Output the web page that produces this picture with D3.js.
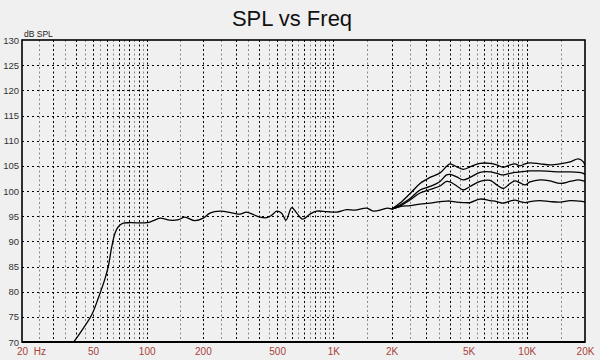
<!DOCTYPE html>
<html><head><meta charset="utf-8">
<script src="https://cdn.jsdelivr.net/npm/d3@7"></script>
<style>body{margin:0;background:#f0f0f0}svg{display:block}</style>
</head><body><svg id="c" width="600" height="360"></svg>
<script>
// ---- data ----
const freqLow = [39, 44.1, 49.2, 53.5, 58.4, 60.9, 63.7, 66.4, 69.3, 73.9, 80.6, 100, 108.5, 117.8, 133, 148, 160, 181, 201, 218, 247, 291, 316, 343, 373, 405, 440, 468, 497, 529, 558, 599, 637, 686, 750, 815, 922, 1041, 1173, 1295, 1488, 1610, 1814, 1900, 2004];
const splLow  = [70, 72.7, 75.4, 78.7, 82.6, 85, 88.9, 91.6, 92.9, 93.6, 93.7, 93.7, 94.1, 94.6, 94.2, 94.3, 94.8, 94.1, 94.6, 95.6, 96.0, 95.6, 95.4, 95.8, 95.3, 94.8, 94.7, 95.2, 96.0, 95.6, 94.2, 96.7, 95.6, 94.4, 95.4, 96.0, 95.9, 95.8, 96.3, 96.2, 96.6, 96.0, 96.4, 96.6, 96.4];

const freqHigh = [2004, 2213, 2493, 2808, 3162, 3563, 3850, 4012, 4346, 4701, 5091, 5734, 6460, 7000, 7568, 8198, 8700, 9236, 9800, 10400, 11720, 13200, 14870, 16750, 18490, 19620, 20000];
const splHighA = [96.4, 97.6, 99.5, 101.5, 102.7, 103.6, 104.9, 105.4, 104.8, 104.3, 104.8, 105.5, 105.5, 105.2, 104.7, 105.2, 105.4, 105.0, 105.4, 105.6, 105.4, 105.2, 105.4, 105.8, 106.4, 105.8, 105.0];
const splHighB = [96.4, 97.2, 98.5, 100.2, 100.9, 101.9, 103.2, 103.3, 102.8, 102.2, 102.7, 103.7, 103.8, 103.5, 103.2, 103.5, 103.7, 103.8, 103.9, 104.0, 104.0, 103.9, 103.8, 103.8, 103.7, 103.5, 103.2];
const splHighC = [96.4, 97.0, 98.2, 99.6, 100.3, 101.0, 101.9, 101.8, 101.0, 100.2, 100.9, 101.9, 102.1, 101.2, 100.5, 101.5, 102.0, 101.6, 101.2, 101.8, 102.2, 102.0, 101.5, 101.9, 102.2, 102.0, 101.9];
const splHighD = [96.4, 96.9, 97.1, 97.4, 97.6, 97.9, 98.0, 98.0, 97.8, 97.7, 97.7, 98.4, 98.1, 97.9, 97.6, 98.0, 98.2, 97.9, 97.7, 97.9, 98.1, 97.9, 97.8, 98.1, 98.0, 97.9, 97.8];

const xTickVals   = [20, 25, 50, 100, 200, 500, 1000, 2000, 5000, 10000, 20000];
const xTickLabels = ["20", "Hz", "50", "100", "200", "500", "1K", "2K", "5K", "10K", "20K"];
const yTickVals   = [70, 75, 80, 85, 90, 95, 100, 105, 110, 115, 120, 125, 130];

// ---- layout ----
const L = 22, R = 585, T = 40, B = 342;
const svg = d3.select("#c");
const x = d3.scaleLog().domain([20, 100, 1000, 20000]).range([L, 146.7, 333.3, R]);
const y = d3.scaleLinear().domain([70, 130]).range([B, T]);

// grid frequencies
const gridF = [];
[10, 100, 1000, 10000].forEach(dec => {
  for (let m = 1; m < 10; m += 0.5) {
    const f = Math.round(m * dec);
    if (f > 20 && f < 20000) gridF.push(f);
  }
});
gridF.push(10000);
const isMajor = f => { const d = Math.pow(10, Math.floor(Math.log10(f))); return Math.abs(f / d - Math.round(f / d)) < 1e-6; };

svg.append("rect").attr("width", 600).attr("height", 360).attr("fill", "#f0f0f0");

// vertical grid
svg.append("g").selectAll("line").data(gridF.filter(f => !isMajor(f))).join("line")
  .attr("x1", d => Math.round(x(d)) + 0.5).attr("x2", d => Math.round(x(d)) + 0.5)
  .attr("y1", T).attr("y2", B)
  .attr("stroke", "#8a8a8a").attr("stroke-width", 1).attr("stroke-dasharray", "2,2.5");
svg.append("g").selectAll("line").data(gridF.filter(isMajor)).join("line")
  .attr("x1", d => Math.round(x(d)) + 0.5).attr("x2", d => Math.round(x(d)) + 0.5)
  .attr("y1", T).attr("y2", B)
  .attr("stroke", "#000").attr("stroke-width", 1).attr("stroke-dasharray", "2,2.5");

// horizontal grid
svg.append("g").selectAll("line").data(yTickVals.filter(v => v > 70 && v < 130)).join("line")
  .attr("x1", L).attr("x2", R)
  .attr("y1", d => Math.round(y(d)) + 0.5).attr("y2", d => Math.round(y(d)) + 0.5)
  .attr("stroke", "#000").attr("stroke-width", 1).attr("stroke-dasharray", "2,3");

// curves
const line = d3.line().x(d => x(d[0])).y(d => y(d[1])).curve(d3.curveCatmullRom.alpha(0.5));
const clip = svg.append("clipPath").attr("id", "pc").append("rect")
  .attr("x", L).attr("y", T).attr("width", R - L).attr("height", B - T);
const g = svg.append("g").attr("clip-path", "url(#pc)");
g.append("path").datum(freqLow.map((f, i) => [f, splLow[i]]))
  .attr("d", line).attr("fill", "none").attr("stroke", "#000").attr("stroke-width", 1.3);
[splHighA, splHighB, splHighC, splHighD].forEach(s => {
  g.append("path").datum(freqHigh.map((f, i) => [f, s[i]]))
    .attr("d", line).attr("fill", "none").attr("stroke", "#000").attr("stroke-width", 1.3);
});

// frame
svg.append("rect").attr("x", L).attr("y", T).attr("width", R - L).attr("height", B - T)
  .attr("fill", "none").attr("stroke", "#000").attr("stroke-width", 1.6);
svg.append("line").attr("x1", L).attr("x2", R).attr("y1", B).attr("y2", B)
  .attr("stroke", "#000").attr("stroke-width", 2.2);

// axes (labels only)
const xAxis = d3.axisBottom(x).tickValues(xTickVals)
  .tickFormat((d, i) => xTickLabels[i]).tickSize(0).tickPadding(0);
const xg = svg.append("g").attr("transform", `translate(0,${B})`).call(xAxis);
xg.select(".domain").remove();
xg.selectAll("text").attr("dy", null).attr("y", 13)
  .attr("font-family", "Liberation Sans, Arial, sans-serif").attr("font-size", 10).attr("fill", "#a8413a");

const yAxis = d3.axisLeft(y).tickValues(yTickVals).tickSize(0).tickPadding(0);
const yg = svg.append("g").attr("transform", `translate(19,0)`).call(yAxis);
yg.select(".domain").remove();
yg.selectAll("text").attr("font-family", "Liberation Sans, Arial, sans-serif")
  .attr("font-size", 9.5).attr("fill", "#333");

svg.append("text").attr("x", 24).attr("y", 37).text("dB SPL")
  .attr("font-family", "Liberation Sans, Arial, sans-serif").attr("font-size", 8.5).attr("fill", "#222");

svg.append("text").attr("x", 292).attr("y", 26).attr("text-anchor", "middle").text("SPL vs Freq")
  .attr("font-family", "Liberation Sans, Arial, sans-serif").attr("font-size", 22).attr("fill", "#111");
</script></body></html>
